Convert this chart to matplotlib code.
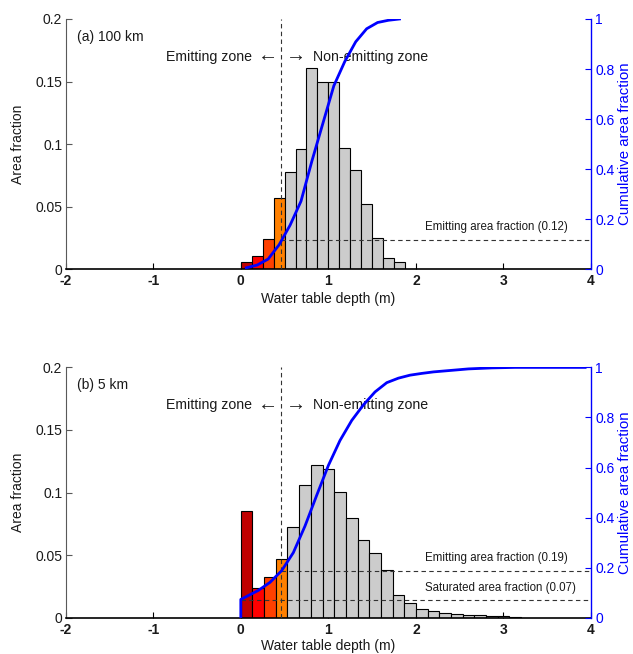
import numpy as np
import matplotlib
matplotlib.use('Agg')
import matplotlib.pyplot as plt

plt.rcParams['font.family'] = ['Liberation Sans', 'DejaVu Sans']

# ---------------- data ----------------
# Panel (a) 100 km : histogram of water table depth (bin width 0.125 m, starting at 0)
hist_a = [0.006, 0.011, 0.024, 0.057, 0.078, 0.096, 0.161, 0.150, 0.150,
          0.097, 0.079, 0.052, 0.025, 0.009, 0.006]
bin_width_a = 0.125
cum_a_depth = [0.0625, 0.1875, 0.3125, 0.4375, 0.5625, 0.6875, 0.8125, 0.9375,
               1.0625, 1.1875, 1.3125, 1.4375, 1.5625, 1.6875, 1.8125]
cum_a = [0.006, 0.017, 0.041, 0.098, 0.176, 0.272, 0.433, 0.583,
         0.733, 0.830, 0.909, 0.961, 0.986, 0.995, 1.000]
emit_frac_a = 0.117

# Panel (b) 5 km : histogram (bin width 4/30 m, starting at 0)
hist_b = [0.085, 0.0237, 0.0325, 0.0466, 0.0724, 0.106, 0.1224, 0.119, 0.1008,
          0.0793, 0.062, 0.0519, 0.0378, 0.018, 0.0117, 0.0072, 0.0054, 0.0038,
          0.0028, 0.0022, 0.0018, 0.0012, 0.0010, 0.0006]
bin_width_b = 4.0 / 30
cum_b_depth = [0.0, 0.0, 0.2, 0.333, 0.467, 0.6, 0.733, 0.867, 1.0, 1.133, 1.267,
               1.4, 1.533, 1.667, 1.8, 1.933, 2.067, 2.2, 2.333, 2.467, 2.6,
               2.733, 2.867, 3.0, 3.133, 3.267, 3.4, 3.533, 3.667, 3.8, 3.933]
cum_b = [0.0, 0.073, 0.109, 0.141, 0.188, 0.260, 0.366, 0.489, 0.608, 0.708, 0.788,
         0.850, 0.902, 0.939, 0.957, 0.969, 0.976, 0.982, 0.986, 0.990, 0.994,
         0.996, 0.998, 0.999, 1.0, 1.0, 1.0, 1.0, 1.0, 1.0, 1.0]
emit_frac_b = 0.187
sat_frac_b = 0.071

emit_threshold = 0.46   # emitting / non-emitting boundary (m)

emit_colors = ['#C00000', '#FF0000', '#FF4000', '#FF8000']
gray = '#CCCCCC'

x_ticks = [-2, -1, 0, 1, 2, 3, 4]
x_ticklabels = ['-2', '-1', '0', '1', '2', '3', '4']
yl_ticks = [0, 0.05, 0.1, 0.15, 0.2]
yl_ticklabels = ['0', '0.05', '0.1', '0.15', '0.2']
yr_ticks = [0, 0.2, 0.4, 0.6, 0.8, 1.0]
yr_ticklabels = ['0', '0.2', '0.4', '0.6', '0.8', '1']

W, H = 633, 654
fig = plt.figure(figsize=(W / 100, H / 100), dpi=100)

ax_left = 65.7 / W
ax_w = (591.0 - 65.7) / W
ax_h = 250.3 / H
txt_col = '#1a1a1a'


def panel(bottom_px, hist, bw, cx, cy, tag, frac_lines):
    ax = fig.add_axes([ax_left, 1 - bottom_px / H, ax_w, ax_h])
    edges = np.arange(len(hist)) * bw
    colors = [emit_colors[i] if i < len(emit_colors) else gray for i in range(len(hist))]
    ax.bar(edges, hist, width=bw, align='edge', color=colors,
           edgecolor='black', linewidth=0.8, zorder=2)
    ax.set_xlim(-2, 4)
    ax.set_ylim(0, 0.2)
    ax.set_xticks(x_ticks)
    ax.set_xticklabels(x_ticklabels, fontweight='bold', fontsize=10, color=txt_col)
    ax.set_yticks(yl_ticks)
    ax.set_yticklabels(yl_ticklabels, fontsize=10, color=txt_col)
    ax.tick_params(axis='x', direction='in', length=4, pad=3.5, width=0.8)
    ax.tick_params(axis='y', direction='in', length=4, pad=2.5, width=0.8,
                   color='0.35')
    ax.spines['top'].set_visible(False)
    ax.spines['right'].set_visible(False)
    ax.spines['left'].set_color('0.35')
    ax.spines['left'].set_linewidth(0.8)
    ax.spines['bottom'].set_linewidth(1.2)

    ax.text(-1.87, 0.186, tag, fontsize=10, ha='left', va='center', color=txt_col)
    ax.text(0.125, 0.170, 'Emitting zone', fontsize=10.2, ha='right',
            va='center', color=txt_col)
    ax.text(0.305, 0.1705, '\u2190', fontsize=14.5, ha='center', va='center',
            color=txt_col)
    ax.text(0.63, 0.1705, '\u2192', fontsize=14.5, ha='center', va='center',
            color=txt_col)
    ax.text(0.82, 0.170, 'Non-emitting zone', fontsize=10.2, ha='left',
            va='center', color=txt_col)

    ax2 = ax.twinx()
    ax2.set_ylim(0, 1)
    ax2.set_xlim(-2, 4)
    ax2.set_yticks(yr_ticks)
    ax2.set_yticklabels(yr_ticklabels, fontsize=10, color='blue')
    ax2.tick_params(axis='y', direction='in', length=4, pad=3, width=0.8,
                    color='blue')
    for s in ['top', 'left', 'bottom']:
        ax2.spines[s].set_visible(False)
    ax2.spines['right'].set_color('blue')
    ax2.spines['right'].set_linewidth(1.0)

    dash = (0, (4, 3))
    ax2.plot([emit_threshold, emit_threshold], [0, 1], color='0.2',
             linestyle=dash, linewidth=0.8)
    for (x0, yv, label, ty) in frac_lines:
        ax2.plot([x0, 4], [yv, yv], color='0.2', linestyle=dash, linewidth=0.8)
        ax2.text(2.104, ty, label + ' (%.2f)' % yv, fontsize=8.3,
                 ha='left', va='center', color=txt_col)
    ax2.plot(cx, cy, color='blue', linewidth=2.0, solid_joinstyle='round')
    return ax, ax2


panel(269.3, hist_a, bin_width_a, cum_a_depth, cum_a, '(a) 100 km',
      [(emit_threshold, emit_frac_a, 'Emitting area fraction', 0.168)])
panel(617.7, hist_b, bin_width_b, cum_b_depth, cum_b, '(b) 5 km',
      [(emit_threshold, emit_frac_b, 'Emitting area fraction', 0.237),
       (0.0, sat_frac_b, 'Saturated area fraction', 0.120)])

for yc, yx in [(144, 299), (492.4, 646)]:
    fig.text(17.7 / W, 1 - yc / H, 'Area fraction', rotation=90, fontsize=10,
             ha='center', va='center', color=txt_col)
    fig.text(625 / W, 1 - yc / H, 'Cumulative area fraction', rotation=90,
             fontsize=10.8, ha='center', va='center', color='blue')
    fig.text(328.4 / W, 1 - yx / H, 'Water table depth (m)', fontsize=10,
             ha='center', va='center', color=txt_col)

fig.savefig('out.png', dpi=100)
